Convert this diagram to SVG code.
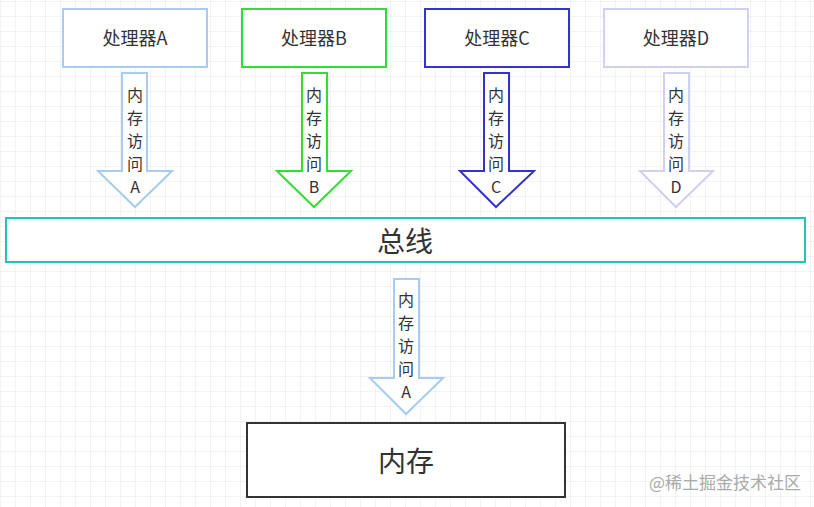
<svg xmlns="http://www.w3.org/2000/svg" width="814" height="507" viewBox="0 0 814 507">
<defs>
<pattern id="g" width="15" height="15" patternUnits="userSpaceOnUse" x="1" y="2"><path d="M15 0V15H0" fill="none" stroke="#e6e6e6" stroke-width="1"/></pattern>
</defs>
<style>
text{font-family:"Microsoft YaHei","Noto Sans CJK SC",sans-serif;fill:#333;text-anchor:middle}
.t{font-size:18px}.a{font-size:16px}
.box{fill:#fff;stroke-width:2}
.arr{fill:#fff;stroke-width:2}
</style>
<rect width="814" height="507" fill="#fff"/>
<rect width="814" height="507" fill="url(#g)"/>
<g id="procA"><rect class="box" x="63" y="9" width="144" height="58" stroke="#a8cbf0"/><text class="t" x="135" y="45">处理器A</text></g>
<g id="procB"><rect class="box" x="242" y="9" width="144" height="58" stroke="#33dd33"/><text class="t" x="314" y="45">处理器B</text></g>
<g id="procC"><rect class="box" x="425" y="9" width="144" height="58" stroke="#3434cc"/><text class="t" x="497" y="45">处理器C</text></g>
<g id="procD"><rect class="box" x="604" y="9" width="144" height="58" stroke="#d0d0f0"/><text class="t" x="676" y="45">处理器D</text></g>
<g id="bus"><rect class="box" x="6" y="218" width="799" height="44" stroke="#22c4b8"/><text x="405" y="252" style="font-size:28px">总线</text></g>
<g id="mem"><rect class="box" x="247" y="423" width="318" height="74" stroke="#333"/><text x="406" y="472" style="font-size:28px">内存</text></g>
<g id="connectors">
<path class="arr" stroke="#a8cbf0" d="M122 73H147V171H172L135 207L98 171H122Z"/>
<path class="arr" stroke="#33dd33" d="M302 73H327V171H351L314 207L277 171H302Z"/>
<path class="arr" stroke="#3434cc" d="M484 73H509V171H534L496 207L460 171H484Z"/>
<path class="arr" stroke="#d0d0f0" d="M664 73H689V171H713L676 207L640 171H664Z"/>
<path class="arr" stroke="#a8cbf0" d="M394 279H419V378H443L406 414L370 378H394Z"/>
<g class="a">
<text x="135" y="101">内</text><text x="135" y="124">存</text><text x="135" y="147">访</text><text x="135" y="170">问</text><text x="135" y="193">A</text>
<text x="314" y="101">内</text><text x="314" y="124">存</text><text x="314" y="147">访</text><text x="314" y="170">问</text><text x="314" y="193">B</text>
<text x="496" y="101">内</text><text x="496" y="124">存</text><text x="496" y="147">访</text><text x="496" y="170">问</text><text x="496" y="193">C</text>
<text x="676" y="101">内</text><text x="676" y="124">存</text><text x="676" y="147">访</text><text x="676" y="170">问</text><text x="676" y="193">D</text>
<text x="406" y="306">内</text><text x="406" y="329">存</text><text x="406" y="352">访</text><text x="406" y="375">问</text><text x="406" y="398">A</text>
</g>
</g>
<text x="725" y="489" style="font-size:17px;fill:#aaa">@稀土掘金技术社区</text>
</svg>
